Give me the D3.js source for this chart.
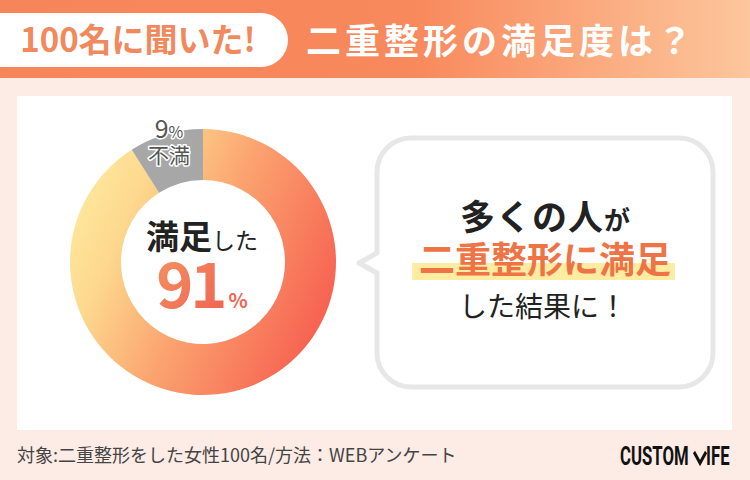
<!DOCTYPE html>
<html><head><meta charset="utf-8">
<script src="https://cdn.jsdelivr.net/npm/d3@7"></script>
<style>html,body{margin:0;padding:0;background:#fdebe5;}svg{display:block;}</style>
</head><body>
<svg id="c" width="750" height="480"></svg>
<script>
const categories = ["満足", "不満"];
const values = [91, 9];
const badgeText = "100名に聞いた!";
const titleText = "二重整形の満足度は？";
const footerText = "対象:二重整形をした女性100名/方法：WEBアンケート";

const JP = "'Noto Sans CJK JP','Noto Sans',sans-serif";
const svg = d3.select("#c");
const defs = svg.append("defs");

svg.append("rect").attr("width",750).attr("height",480).attr("fill","#fdebe5");

// header
const hg = defs.append("linearGradient").attr("id","hg").attr("x1","0").attr("x2","1").attr("y1","0").attr("y2","0");
hg.append("stop").attr("offset","0").attr("stop-color","#f7855a");
hg.append("stop").attr("offset","0.55").attr("stop-color","#f8895c");
hg.append("stop").attr("offset","1").attr("stop-color","#fdc69c");
svg.append("rect").attr("x",0).attr("y",0).attr("width",750).attr("height",78).attr("fill","url(#hg)");

svg.append("path").attr("d","M0,13 H261 A27,27 0 0 1 261,67 H0 Z").attr("fill","#fff");
svg.append("text").attr("x",138).attr("y",52).attr("text-anchor","middle")
  .attr("font-family",JP).attr("font-weight",700).attr("font-size",33).attr("fill","#f1895c").text(badgeText);
svg.append("text").attr("x",306).attr("y",54)
  .attr("font-family",JP).attr("font-weight",700).attr("font-size",35).attr("letter-spacing",4).attr("fill","#fff").text(titleText);

// white panel
svg.append("rect").attr("x",17).attr("y",96).attr("width",715).attr("height",334).attr("fill","#fff");

// donut
const cx = 203, cy = 262, rOut = 133, rIn = 82;
const pie = d3.pie().sort(null).value(d=>d.v);
const data = pie(categories.map((c,i)=>({c, v: values[i]})));
const arc = d3.arc().innerRadius(rIn).outerRadius(rOut);

const dg = defs.append("linearGradient").attr("id","dg").attr("gradientUnits","userSpaceOnUse")
  .attr("x1",-rOut).attr("y1",-60).attr("x2",rOut).attr("y2",60);
dg.append("stop").attr("offset","0").attr("stop-color","#fee99e");
dg.append("stop").attr("offset","0.2").attr("stop-color","#fdd88e");
dg.append("stop").attr("offset","0.5").attr("stop-color","#fba470");
dg.append("stop").attr("offset","1").attr("stop-color","#f65c4e");

const g = svg.append("g").attr("transform",`translate(${cx},${cy})`);
g.selectAll("path").data(data).join("path")
  .attr("d",arc)
  .attr("fill",(d,i)=> i===0 ? "url(#dg)" : "#a7a7a7");

// gray slice label
const lab = d3.arc().innerRadius(122).outerRadius(122).centroid(data[1]);
const lg = g.append("g").attr("transform",`translate(${lab[0]},${lab[1]})`)
  .attr("font-family",JP).attr("text-anchor","middle").attr("fill","#555")
  .attr("stroke","#fff").attr("stroke-width",3).attr("paint-order","stroke").attr("stroke-linejoin","round");
const t9 = lg.append("text").attr("y",-7);
t9.append("tspan").attr("font-size",25).text(values[1]);
t9.append("tspan").attr("font-size",16).text("%");
lg.append("text").attr("y",18).attr("font-size",21).text(categories[1]);

// center text
const ct = svg.append("text").attr("x",cx-1).attr("y",249).attr("text-anchor","middle").attr("font-family",JP).attr("fill","#222");
ct.append("tspan").attr("font-weight",700).attr("font-size",33).text(categories[0]);
ct.append("tspan").attr("font-size",23).text("した");

const ng = defs.append("linearGradient").attr("id","ng").attr("x1","0").attr("y1","0").attr("x2","1").attr("y2","1");
ng.append("stop").attr("offset","0").attr("stop-color","#f49a62");
ng.append("stop").attr("offset","1").attr("stop-color","#ee5550");
const nt = svg.append("text").attr("x",cx-1).attr("y",308).attr("text-anchor","middle").attr("font-family",JP).attr("font-weight",700);
nt.append("tspan").attr("font-size",63).attr("letter-spacing",-3).attr("fill","url(#ng)").text(values[0]);
nt.append("tspan").attr("font-size",20).attr("fill","#ef6653").attr("dx",4).text("%");

// speech bubble
const bx0=377, by0=138, bx1=713, by1=387, br=34;
const bubble = `M${bx0+br},${by0} H${bx1-br} A${br},${br} 0 0 1 ${bx1},${by0+br} V${by1-br} A${br},${br} 0 0 1 ${bx1-br},${by1} H${bx0+br} A${br},${br} 0 0 1 ${bx0},${by1-br} V273 L359,263 L${bx0},253 V${by0+br} A${br},${br} 0 0 1 ${bx0+br},${by0} Z`;
svg.append("path").attr("d",bubble).attr("fill","#fff").attr("stroke","#e7e7e7").attr("stroke-width",5).attr("stroke-linejoin","round");

const mx = 545;
const l1 = svg.append("text").attr("x",mx).attr("y",230).attr("text-anchor","middle").attr("font-family",JP).attr("font-weight",700).attr("fill","#222");
l1.append("tspan").attr("font-size",35).attr("letter-spacing",1).text("多くの人");
l1.append("tspan").attr("font-size",26).text("が");

svg.append("rect").attr("x",412).attr("y",263).attr("width",263).attr("height",17).attr("fill","#fdeca2");
svg.append("text").attr("x",mx).attr("y",273).attr("text-anchor","middle").attr("font-family",JP).attr("font-weight",700)
  .attr("font-size",36).attr("fill","#ee7446").text("二重整形に満足");
svg.append("text").attr("x",mx-2).attr("y",317).attr("text-anchor","middle").attr("font-family",JP).attr("font-weight",400)
  .attr("font-size",28).attr("fill","#222").text("した結果に！");

// footer
svg.append("text").attr("x",17).attr("y",462).attr("font-family",JP).attr("font-size",18).attr("fill","#444").text(footerText);

// logo
const logo = svg.append("g").attr("transform","translate(620,465) scale(0.67,1)")
  .attr("font-family","Roboto,'Liberation Sans',sans-serif").attr("font-weight",700).attr("font-size",25).attr("fill","#111");
const tC = logo.append("text").attr("x",0).attr("y",0).text("CUSTOM");
const w1 = tC.node().getComputedTextLength();
const ck = w1 + 8;
logo.append("path").attr("d",`M${ck},-13 L${ck+9},-2 L${ck+18},-13`).attr("fill","none").attr("stroke","#111").attr("stroke-width",4);
logo.append("text").attr("x",ck+18).attr("y",0).text("IFE");
</script>
</body></html>
